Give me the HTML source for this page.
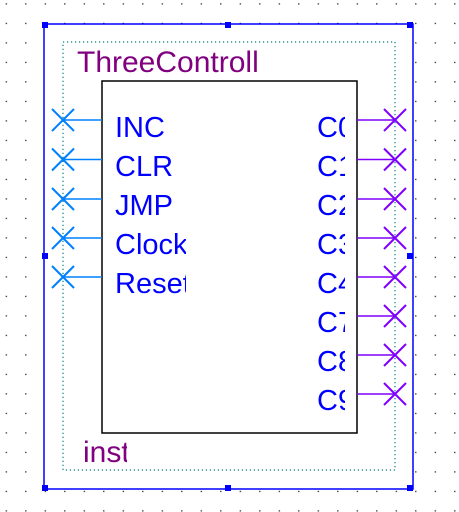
<!DOCTYPE html>
<html><head><style>
html,body{margin:0;padding:0;background:#fff;}
svg{display:block;}
text{font-family:"Liberation Sans",Arial,sans-serif;}
</style></head><body>
<svg width="459" height="512" viewBox="0 0 459 512" xmlns="http://www.w3.org/2000/svg">
<defs>
<pattern id="g" x="5.7" y="3.3" width="19.5" height="19.5" patternUnits="userSpaceOnUse">
<rect x="0" y="0" width="1.2" height="1.2" fill="#000"/>
</pattern>
<clipPath id="cl"><rect x="102" y="81" width="84" height="220"/></clipPath>
<clipPath id="cr"><rect x="280" y="81" width="65" height="352"/></clipPath>
<clipPath id="ct"><rect x="60" y="40" width="200" height="40"/></clipPath>
<clipPath id="ci"><rect x="60" y="430" width="67" height="40"/></clipPath>
</defs>
<rect width="459" height="512" fill="url(#g)"/>
<rect x="44" y="24" width="369" height="465" fill="#fff" stroke="#0000ff" stroke-width="1.5"/>
<rect x="63" y="42" width="332" height="428" fill="none" stroke="#008080" stroke-width="1.2" stroke-dasharray="1.2,2.8"/>
<g fill="#0000ff">
<rect x="42" y="22" width="6" height="6"/><rect x="225" y="22" width="6" height="6"/><rect x="407" y="22" width="6" height="6"/>
<rect x="42" y="253" width="6" height="6"/><rect x="407" y="253" width="6" height="6"/>
<rect x="42" y="485" width="6" height="6"/><rect x="225" y="485" width="6" height="6"/><rect x="407" y="485" width="6" height="6"/>
</g>
<rect x="102" y="81" width="255" height="352" fill="#fff" stroke="#000" stroke-width="1.5"/>
<text x="77" y="72" font-size="30" fill="#800080" clip-path="url(#ct)">ThreeControll</text>
<text x="83" y="462" font-size="30" fill="#800080" clip-path="url(#ci)">inst</text>
<g stroke="#0080ff" stroke-width="2" fill="none">
<g transform="translate(0,120)"><line x1="63" y1="0" x2="102" y2="0" stroke-width="1.5"/><line x1="52" y1="-11" x2="74" y2="11"/><line x1="52" y1="11" x2="74" y2="-11"/></g>
<g transform="translate(0,159.5)"><line x1="63" y1="0" x2="102" y2="0" stroke-width="1.5"/><line x1="52" y1="-11" x2="74" y2="11"/><line x1="52" y1="11" x2="74" y2="-11"/></g>
<g transform="translate(0,199)"><line x1="63" y1="0" x2="102" y2="0" stroke-width="1.5"/><line x1="52" y1="-11" x2="74" y2="11"/><line x1="52" y1="11" x2="74" y2="-11"/></g>
<g transform="translate(0,238)"><line x1="63" y1="0" x2="102" y2="0" stroke-width="1.5"/><line x1="52" y1="-11" x2="74" y2="11"/><line x1="52" y1="11" x2="74" y2="-11"/></g>
<g transform="translate(0,277)"><line x1="63" y1="0" x2="102" y2="0" stroke-width="1.5"/><line x1="52" y1="-11" x2="74" y2="11"/><line x1="52" y1="11" x2="74" y2="-11"/></g>
</g>
<g stroke="#8000ff" stroke-width="2" fill="none">
<g transform="translate(0,120)"><line x1="357" y1="0" x2="395" y2="0" stroke-width="1.5"/><line x1="384" y1="-11" x2="406" y2="11"/><line x1="384" y1="11" x2="406" y2="-11"/></g>
<g transform="translate(0,159.5)"><line x1="357" y1="0" x2="395" y2="0" stroke-width="1.5"/><line x1="384" y1="-11" x2="406" y2="11"/><line x1="384" y1="11" x2="406" y2="-11"/></g>
<g transform="translate(0,199)"><line x1="357" y1="0" x2="395" y2="0" stroke-width="1.5"/><line x1="384" y1="-11" x2="406" y2="11"/><line x1="384" y1="11" x2="406" y2="-11"/></g>
<g transform="translate(0,238)"><line x1="357" y1="0" x2="395" y2="0" stroke-width="1.5"/><line x1="384" y1="-11" x2="406" y2="11"/><line x1="384" y1="11" x2="406" y2="-11"/></g>
<g transform="translate(0,277)"><line x1="357" y1="0" x2="395" y2="0" stroke-width="1.5"/><line x1="384" y1="-11" x2="406" y2="11"/><line x1="384" y1="11" x2="406" y2="-11"/></g>
<g transform="translate(0,316)"><line x1="357" y1="0" x2="395" y2="0" stroke-width="1.5"/><line x1="384" y1="-11" x2="406" y2="11"/><line x1="384" y1="11" x2="406" y2="-11"/></g>
<g transform="translate(0,355)"><line x1="357" y1="0" x2="395" y2="0" stroke-width="1.5"/><line x1="384" y1="-11" x2="406" y2="11"/><line x1="384" y1="11" x2="406" y2="-11"/></g>
<g transform="translate(0,394)"><line x1="357" y1="0" x2="395" y2="0" stroke-width="1.5"/><line x1="384" y1="-11" x2="406" y2="11"/><line x1="384" y1="11" x2="406" y2="-11"/></g>
</g>
<g font-size="29" fill="#0000ff" clip-path="url(#cl)">
<text x="115" y="137">INC</text>
<text x="115" y="176">CLR</text>
<text x="115" y="215">JMP</text>
<text x="115" y="254">Clock</text>
<text x="115" y="293">Reset</text>
</g>
<g font-size="29" fill="#0000ff" clip-path="url(#cr)">
<text x="317" y="137">C0</text>
<text x="317" y="176">C1</text>
<text x="317" y="215">C2</text>
<text x="317" y="254">C3</text>
<text x="317" y="293">C4</text>
<text x="317" y="332">C7</text>
<text x="317" y="371">C8</text>
<text x="317" y="410">C9</text>
</g>
</svg>
</body></html>
